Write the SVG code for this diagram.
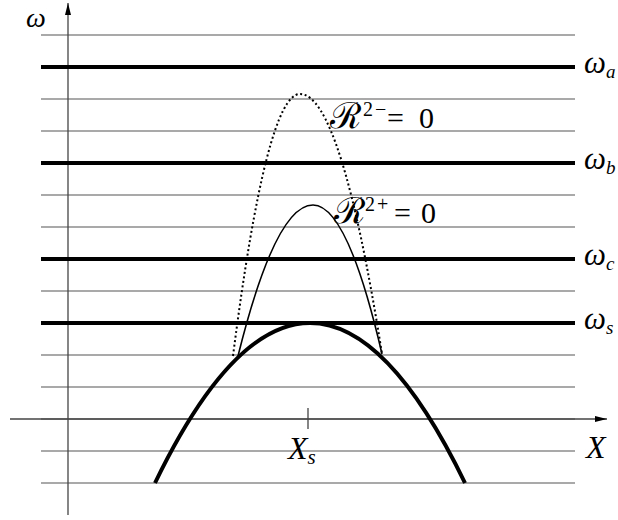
<svg xmlns="http://www.w3.org/2000/svg" width="618" height="520" viewBox="0 0 618 520">
<defs>
<style>
.grid{stroke:#555;stroke-width:1.2;fill:none}
.level{stroke:#000;stroke-width:4;fill:none}
.axis{stroke:#444;stroke-width:1.3;fill:none}
.lbl{font-family:"Liberation Serif","DejaVu Serif",serif;font-style:italic;fill:#000}
.rl{font-family:"Liberation Serif","DejaVu Serif",serif;fill:#000}
.cal{font-family:"DejaVu Serif","Noto Sans",serif;font-size:36px}
</style>
<marker id="arr" viewBox="0 0 12 8" refX="12" refY="4" markerWidth="12" markerHeight="8" markerUnits="userSpaceOnUse" orient="auto">
<path d="M0,1 L12,4 L0,7 Z" fill="#000"/>
</marker>
</defs>
<rect width="618" height="520" fill="#fff"/>
<g id="grid">
<path class="grid" d="M41,35H575M41,99H575M41,131H575M41,195H575M41,227H575M41,291H575M41,355H575M41,387H575M41,419H575M41,451H575M41,483H575"/>
</g>
<g id="axes">
<line class="axis" x1="68" y1="515" x2="68" y2="3" marker-end="url(#arr)"/>
<line class="axis" x1="10" y1="419" x2="607" y2="419" marker-end="url(#arr)"/>
<line class="axis" x1="308" y1="408" x2="308" y2="429"/>
</g>
<g id="levels">
<path class="level" d="M41,67H575M41,163H575M41,259H575M41,323H575"/>
</g>
<g id="curves">
<path d="M155,483 Q310,163 465,483" fill="none" stroke="#000" stroke-width="4"/>
<path d="M238,356 Q275.5,205 313,205 Q347.5,205 382,354" fill="none" stroke="#000" stroke-width="1.6"/>
<path d="M233,356 Q266.5,94 300,94 Q341,94 382,354" fill="none" stroke="#000" stroke-width="2" stroke-dasharray="2 2.6"/>
</g>
<g id="labels">
<text class="lbl" x="26" y="27" font-size="28">ω</text>
<text class="lbl" x="584" y="73" font-size="31">ω<tspan font-size="19" dy="5">a</tspan></text>
<text class="lbl" x="584" y="169" font-size="31">ω<tspan font-size="19" dy="5">b</tspan></text>
<text class="lbl" x="584" y="265" font-size="31">ω<tspan font-size="19" dy="5">c</tspan></text>
<text class="lbl" x="584" y="329" font-size="31">ω<tspan font-size="19" dy="5">s</tspan></text>
<text class="lbl" x="288" y="459" font-size="32">X<tspan font-size="21" dy="5">s</tspan></text>
<text class="lbl" x="586" y="458" font-size="32">X</text>
<text class="rl" x="330" y="128" font-size="30"><tspan class="cal">ℛ</tspan><tspan font-size="20" x="363" y="116">2</tspan><tspan font-size="20" x="375" y="116">−</tspan><tspan x="387" y="128">=</tspan><tspan x="419" y="128">0</tspan></text>
<text class="rl" x="334" y="223" font-size="30"><tspan class="cal">ℛ</tspan><tspan font-size="20" x="365" y="211">2</tspan><tspan font-size="20" x="377" y="211">+</tspan><tspan x="394" y="223">=</tspan><tspan x="421" y="223">0</tspan></text>
</g>
</svg>
